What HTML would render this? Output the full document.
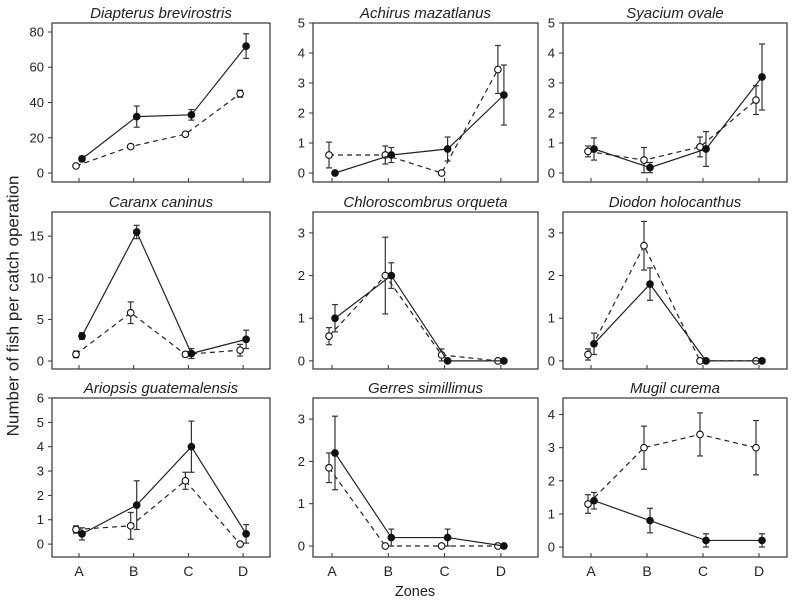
<!DOCTYPE html>
<html><head><meta charset="utf-8"><style>
html,body{margin:0;padding:0;background:#fff;width:800px;height:610px;overflow:hidden}
svg{display:block;font-family:"Liberation Sans",Arial,sans-serif}
</style></head><body>
<svg id="chart" width="800" height="610">
<text x="14" y="306" font-size="17" text-anchor="middle" dominant-baseline="middle" transform="rotate(-90 14 306)" fill="#222">Number of fish per catch operation</text>
<text x="415" y="596" font-size="14.5" text-anchor="middle" fill="#222">Zones</text>
</svg>
<script>
const zones = ["A","B","C","D"];
const titles = ["Diapterus brevirostris","Achirus mazatlanus","Syacium ovale","Caranx caninus","Chloroscombrus orqueta","Diodon holocanthus","Ariopsis guatemalensis","Gerres simillimus","Mugil curema"];
const yTicks = [[0,20,40,60,80],[0,1,2,3,4,5],[0,1,2,3,4,5],[0,5,10,15],[0,1,2,3],[0,1,2,3],[0,1,2,3,4,5,6],[0,1,2,3],[0,1,2,3,4]];
const yDomains = [[-5.1,85.1],[-0.3,5],[-0.3,5],[-0.96,17.9],[-0.19,3.49],[-0.19,3.49],[-0.53,6.0],[-0.26,3.5],[-0.3,4.5]];
const filledVals = [[8,32,33,72],[0,0.6,0.8,2.6],[0.8,0.18,0.8,3.2],[3,15.5,0.9,2.6],[1.0,2.0,0,0],[0.4,1.8,0,0],[0.42,1.6,4.0,0.42],[2.2,0.2,0.2,0],[1.4,0.8,0.2,0.2]];
const filledErr = [[1.5,6,3,7],[0,0.25,0.4,1.0],[0.37,0.17,0.58,1.1],[0.4,0.8,0.6,1.1],[0.32,0.3,0,0],[0.25,0.38,0,0],[0.25,1.0,1.05,0.38],[0.87,0.2,0.2,0],[0.25,0.37,0.2,0.2]];
const openVals = [[4,15,22,45],[0.6,0.6,0,3.45],[0.72,0.43,0.87,2.43],[0.8,5.8,0.8,1.3],[0.58,2.0,0.14,0],[0.15,2.7,0,0],[0.6,0.75,2.6,0],[1.85,0,0,0],[1.3,3.0,3.4,3.0]];
const openErr = [[0,0,0,2],[0.43,0.3,0,0.8],[0.18,0.42,0.33,0.48],[0.4,1.3,0.3,0.7],[0.2,0.9,0.14,0],[0.13,0.57,0,0],[0.15,0.55,0.35,0],[0.35,0,0,0],[0.28,0.65,0.65,0.82]];

const colsX = [[52,270,79,54.7],[313,538,332,56.3],[563,787,591,56]];
const rowsY = [[23,182],[212,369],[398,557]];
const svg = document.getElementById('chart');
const NS = "http://www.w3.org/2000/svg";
function mk(tag, attrs, parent){const e=document.createElementNS(NS,tag);for(const k in attrs)e.setAttribute(k,attrs[k]);(parent||svg).appendChild(e);return e;}

for(let p=0;p<9;p++){
  const c=p%3, r=Math.floor(p/3);
  const [x0,x1,tx0,tdx]=colsX[c]; const [y0,y1]=rowsY[r];
  const [dmin,dmax]=yDomains[p];
  const ys=v=>y1-(v-dmin)/(dmax-dmin)*(y1-y0);
  const xs=i=>tx0+i*tdx;
  const g=mk('g',{});
  
  
  const t=mk('text',{x:(x0+x1)/2,y:y0-5,'font-size':15,'font-style':'italic','text-anchor':'middle',fill:'#222'},g);
  t.textContent=titles[p];
  
  
  const box=mk('rect',{x:x0,y:y0,width:x1-x0,height:y1-y0,fill:'none',stroke:'#333','stroke-width':1.2},g);
  
  
  yTicks[p].forEach(v=>{
    const y=ys(v);
    mk('line',{x1:x0-4,x2:x0,y1:y,y2:y,stroke:'#333'},g);
    const tl=mk('text',{x:x0-8,y:y+4.5,'font-size':13,'text-anchor':'end',fill:'#222'},g);
    tl.textContent=v;
    
    
  });
  zones.forEach((z,i)=>{
    mk('line',{x1:xs(i),x2:xs(i),y1:y1,y2:y1-4,stroke:'#333'},g);
    if(r===2){
      const xl=mk('text',{x:xs(i),y:y1+19,'font-size':14,'text-anchor':'middle',fill:'#222'},g);
      xl.textContent=z;
      
      
    }
  });
  const series=[[openVals[p],openErr[p],-3,'5,4','#fff','open'],[filledVals[p],filledErr[p],3,'none','#111','filled']];
  series.forEach(([vals,errs,off,dash,fill,nm])=>{
    const pts=vals.map((v,i)=>[xs(i)+off,ys(v)]);
    const pl=mk('polyline',{points:pts.map(q=>q.join(',')).join(' '),fill:'none',stroke:'#222','stroke-width':1.2,'stroke-dasharray':dash},g);
    
    
    vals.forEach((v,i)=>{
      const e=errs[i];
      if(e>0){
        const x=pts[i][0], ya=ys(v+e), yb=ys(v-e);
        mk('line',{x1:x,x2:x,y1:ya,y2:yb,stroke:'#333','stroke-width':1.2},g);
        mk('line',{x1:x-3,x2:x+3,y1:ya,y2:ya,stroke:'#333','stroke-width':1.2},g);
        mk('line',{x1:x-3,x2:x+3,y1:yb,y2:yb,stroke:'#333','stroke-width':1.2},g);
      }
    });
    vals.forEach((v,i)=>{
      const m=mk('circle',{cx:pts[i][0],cy:pts[i][1],r:3.3,fill:fill,stroke:'#111','stroke-width':1.1},g);
      
      
    });
  });
}
</script>
</body></html>
